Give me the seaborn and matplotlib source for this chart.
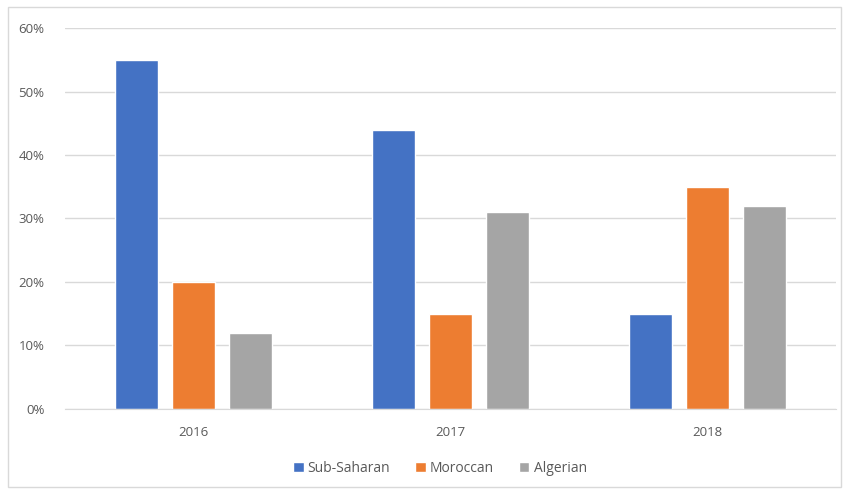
import numpy as np
import pandas as pd
import matplotlib.pyplot as plt
import seaborn as sns
from matplotlib.patches import Rectangle
from matplotlib.ticker import PercentFormatter

# data
years = ["2016", "2017", "2018"]
groups = ["Sub-Saharan", "Moroccan", "Algerian"]
sub_saharan = [0.55, 0.44, 0.15]
moroccan = [0.20, 0.15, 0.35]
algerian = [0.12, 0.31, 0.32]

df = pd.DataFrame({
    "year": years * 3,
    "group": [groups[0]] * 3 + [groups[1]] * 3 + [groups[2]] * 3,
    "share": sub_saharan + moroccan + algerian,
})

colors = ["#4472c4", "#ed7d31", "#a5a5a5"]

sns.set_style("white")
plt.rcParams['font.family'] = ['Open Sans', 'DejaVu Sans']

fig = plt.figure(figsize=(8.46, 4.92), dpi=100)
ax = fig.add_axes([0.077, 0.169, 0.911, 0.774])

sns.barplot(data=df, x="year", y="share", hue="group", hue_order=groups,
            palette=colors, width=0.665, gap=0.25, saturation=1,
            ax=ax, legend=True)

ax.set_ylim(0, 0.6)
ax.set_yticks(np.arange(0, 0.61, 0.1))
ax.yaxis.set_major_formatter(PercentFormatter(1.0, decimals=0))
ax.set_xlim(-0.5, 2.5)
ax.grid(axis="y", color="#d9d9d9", linewidth=1)
ax.set_axisbelow(True)
for s in ["top", "right", "left"]:
    ax.spines[s].set_visible(False)
ax.spines["bottom"].set_color("#d9d9d9")
ax.tick_params(axis="both", length=0, labelsize=9.5, colors="#595959")
ax.tick_params(axis="x", pad=12)
ax.tick_params(axis="y", pad=15)
ax.set_xlabel("")
ax.set_ylabel("")

handles, labels = ax.get_legend_handles_labels()
ax.legend(handles, labels, loc="center", bbox_to_anchor=(0.52, 0.048),
          bbox_transform=fig.transFigure, ncol=3, frameon=False,
          handlelength=0.75, handleheight=0.75, handletextpad=0.3,
          columnspacing=1.8, fontsize=10, labelcolor="#595959")

# chart border
fig.patches.append(Rectangle((0.009, 0.01), 0.985, 0.975, transform=fig.transFigure,
                             fill=False, edgecolor="#d9d9d9", linewidth=1))

fig.savefig("out.png", dpi=100)
